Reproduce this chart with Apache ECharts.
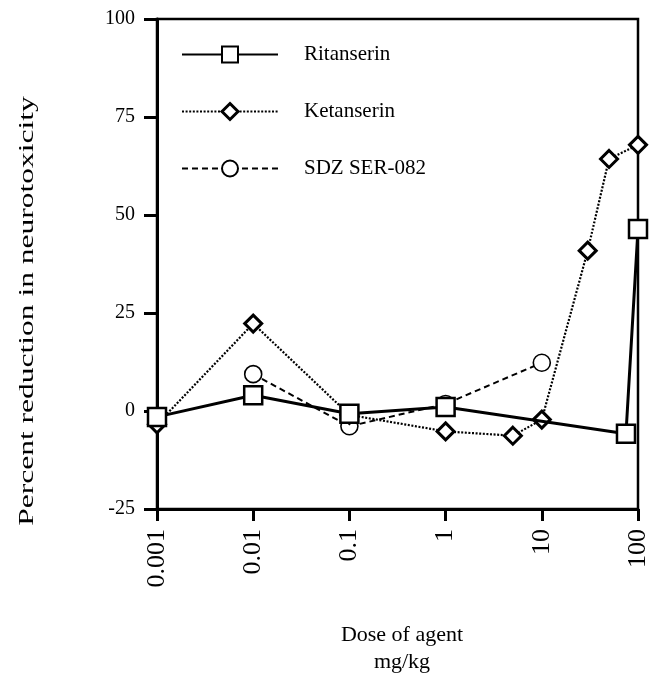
<!DOCTYPE html>
<html>
<head>
<meta charset="utf-8">
<script src="https://cdn.jsdelivr.net/npm/echarts@6/dist/echarts.min.js"></script>
<style>html,body{margin:0;padding:0;background:#fff}#c{width:651px;height:687px}</style>
</head>
<body>
<div id="c"></div>
<script>
var seriesNames = ['Ritanserin', 'Ketanserin', 'SDZ SER-082'];
var ritDoses = [0.001, 0.01, 0.1, 1, 75, 100];
var ritValues = [-1.5, 4.0, -0.7, 1.0, -5.8, 46.4];
var ketDoses = [0.001, 0.01, 0.1, 1, 5, 10, 30, 50, 100];
var ketValues = [-3.4, 22.3, -1.0, -5.2, -6.3, -2.2, 40.9, 64.3, 67.9];
var sdzDoses = [0.01, 0.1, 1, 10];
var sdzValues = [9.4, -3.9, 1.8, 12.3];
var xTickLabels = ['0.001', '0.01', '0.1', '1', '10', '100'];
var yTickLabels = ['-25', '0', '25', '50', '75', '100'];

function pairs(xs, ys) { return xs.map(function (x, i) { return [x, ys[i]]; }); }

var FONT = 'Liberation Serif';
var chart = echarts.init(document.getElementById('c'), null, { renderer: 'canvas' });
chart.setOption({
  backgroundColor: '#fff',
  animation: false,
  grid: { left: 157, right: 12, top: 19, bottom: 178, show: true, borderColor: '#000', borderWidth: 2.5, backgroundColor: 'transparent' },
  xAxis: {
    type: 'log', logBase: 10, min: 0.001, max: 100,
    axisLine: { onZero: false, lineStyle: { color: '#000', width: 3 } },
    axisTick: { show: true, length: 12, lineStyle: { color: '#000', width: 3 } },
    minorTick: { show: false },
    splitLine: { show: false },
    axisLabel: {
      rotate: 90, margin: 20, color: '#000', fontFamily: FONT, fontSize: 26,
      formatter: function (v) { return xTickLabels[Math.round(Math.log10(v)) + 3]; }
    }
  },
  yAxis: {
    type: 'value', min: -25, max: 100, interval: 25,
    axisLine: { show: true, lineStyle: { color: '#000', width: 3 } },
    axisTick: { show: true, length: 13, lineStyle: { color: '#000', width: 3 } },
    splitLine: { show: false },
    axisLabel: {
      margin: 22, color: '#000', fontFamily: FONT, fontSize: 20,
      formatter: function (v) { return yTickLabels[Math.round((v + 25) / 25)]; }
    }
  },
  legend: {
    data: [
      { name: seriesNames[0] },
      { name: seriesNames[1], itemStyle: { borderWidth: 3 } },
      { name: seriesNames[2] }
    ],
    orient: 'vertical', left: 176, top: 39,
    itemWidth: 96, itemHeight: 20, itemGap: 36,
    textStyle: { color: '#000', fontFamily: FONT, fontSize: 21, padding: [0, 0, 0, 21] }
  },
  graphic: [
    { type: 'text', x: 27, y: 311, rotation: Math.PI / 2, scaleX: 1.5, scaleY: 1,
      style: { text: 'Percent reduction in neurotoxicity', fill: '#000', font: '21px "Liberation Serif"', align: 'center', verticalAlign: 'middle' } },
    { type: 'text', x: 402, y: 649,
      style: { text: 'Dose of agent\nmg/kg', fill: '#000', font: '22px "Liberation Serif"', align: 'center', verticalAlign: 'middle', lineHeight: 27 } }
  ],
  series: [
    { name: 'SDZ SER-082', type: 'line', z: 2, data: pairs(sdzDoses, sdzValues),
      symbol: 'circle', symbolSize: 17,
      lineStyle: { color: '#000', width: 2, type: [6, 4] },
      itemStyle: { color: '#fff', borderColor: '#000', borderWidth: 1.6 } },
    { name: 'Ketanserin', type: 'line', z: 3, data: pairs(ketDoses, ketValues),
      symbol: 'diamond', symbolSize: [17, 17],
      lineStyle: { color: '#000', width: 2.2, type: [2, 1.6] },
      itemStyle: { color: '#fff', borderColor: '#000', borderWidth: 3 } },
    { name: 'Ritanserin', type: 'line', z: 4, data: pairs(ritDoses, ritValues),
      symbol: 'rect', symbolSize: 18,
      lineStyle: { color: '#000', width: 3, type: 'solid' },
      itemStyle: { color: '#fff', borderColor: '#000', borderWidth: 2.5 } }
  ]
});
</script>
</body>
</html>
